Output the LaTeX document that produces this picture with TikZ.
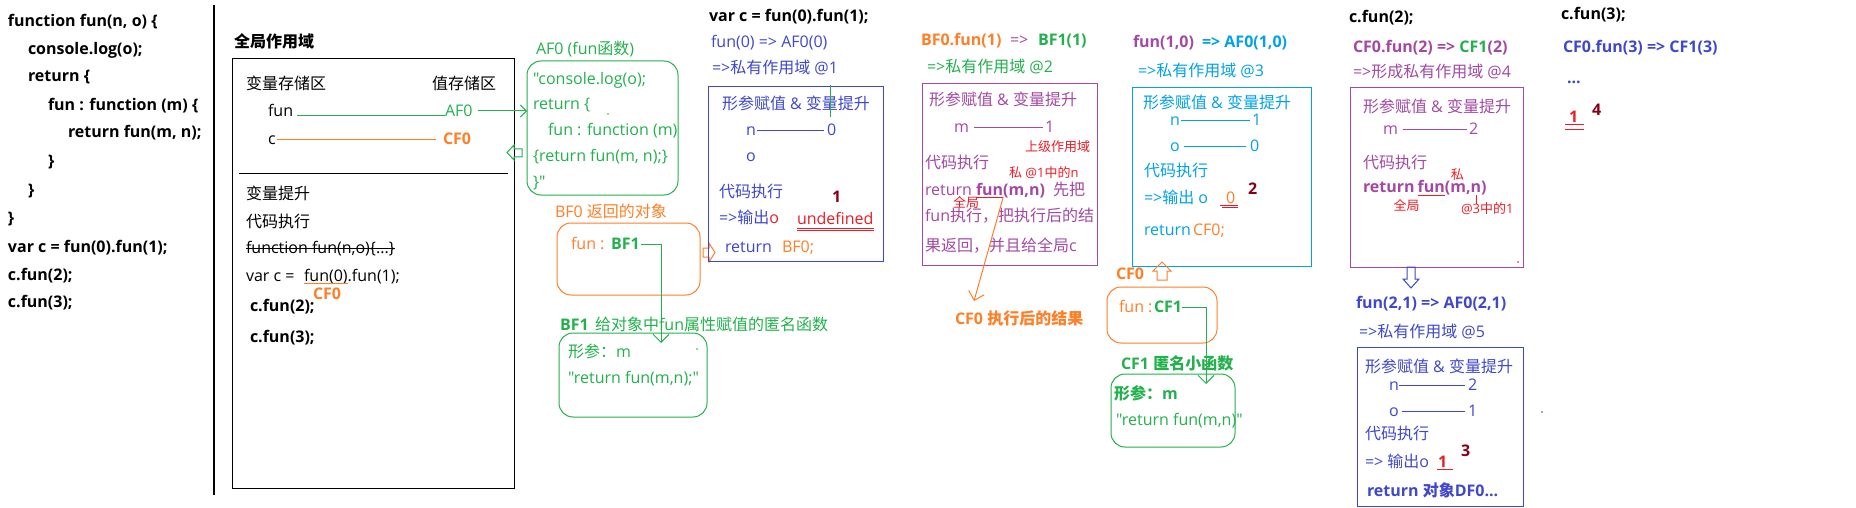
\documentclass[tikz,border=0pt]{standalone}
\usepackage{fontspec}
\newfontfamily\latfont{Open Sans}
\newfontfamily\cjkfont{Noto Sans CJK SC}
\usetikzlibrary{arrows.meta}
\XeTeXinterchartokenstate=1
\newXeTeXintercharclass\CJKclass
\newcount\cjkn
\cjkn="4E00
\loop\ifnum\cjkn<"A000
  \XeTeXcharclass\cjkn=\CJKclass
  \advance\cjkn by 1
\repeat
\XeTeXcharclass"FF0C=\CJKclass
\XeTeXcharclass"FF1A=\CJKclass
\XeTeXinterchartoks 0 \CJKclass={\begingroup\cjkfont}
\XeTeXinterchartoks 4095 \CJKclass={\begingroup\cjkfont}
\XeTeXinterchartoks \CJKclass 0={\endgroup}
\XeTeXinterchartoks \CJKclass 4095={\endgroup}
\newcommand\fsN{\latfont\fontsize{16}{19}\selectfont}
\newcommand\fsS{\latfont\fontsize{13}{15}\selectfont}
\definecolor{cgreen}{RGB}{34,177,76}
\definecolor{corange}{RGB}{255,127,39}
\definecolor{cblue}{RGB}{63,72,204}
\definecolor{cpurple}{RGB}{163,73,164}
\definecolor{ccyan}{RGB}{0,162,232}
\definecolor{cred}{RGB}{237,28,36}
\definecolor{cdred}{RGB}{136,0,21}
\begin{document}
\begin{tikzpicture}[x=1pt,y=-1pt,
  tx/.style={anchor=base west,inner sep=0pt,outer sep=0pt,font=\fsN},
  cb/.style={tx,font=\fsN\bfseries},
  sm/.style={anchor=base west,inner sep=0pt,outer sep=0pt,font=\fsS},
  ln/.style={line width=1pt},
  sbox/.style={draw,line width=1pt,inner sep=0pt,outer sep=0pt},
  rbox/.style={sbox,rounded corners=14pt},
  barb/.style={-{Straight Barb[length=8pt,width=16pt]}},
]
\useasboundingbox[fill=white] (0,0) rectangle (1856,508);

% ---------- code column ----------
\node[cb] (c1) at (8,27) {function fun(n, o) \{};
\node[cb] (c2) at (28,55) {console.log(o);};
\node[cb] (c3) at (28,82) {return \{};
\node[cb] (c4) at (48,111) {fun : function (m) \{};
\node[cb] (c5) at (68,138) {return fun(m, n);};
\node[cb] (c6) at (48,167) {\}};
\node[cb] (c7) at (28,195) {\}};
\node[cb] (c8) at (8,223) {\}};
\node[cb] (c9) at (8,252) {var c = fun(0).fun(1);};
\node[cb] (c10) at (8,280) {c.fun(2);};
\node[cb] (c11) at (8,307) {c.fun(3);};
\draw[line width=1.2pt] (214,5) -- (214,495);

% ---------- global scope ----------
\node[cb] (gtitle) at (234,48) {全局作用域};
\node[sbox,minimum width=282pt,minimum height=429pt] (gbox) at (373,273.5) {};
\node[tx] (gvar) at (246,90) {变量存储区};
\node[tx] (gval) at (432,90) {值存储区};
\node[tx] (gfun) at (268,117) {fun};
\node[tx,text=cgreen] (gaf0) at (445,117) {AF0};
\draw[ln,cgreen] ([xshift=4pt,yshift=1pt]gfun.base east) -- ([yshift=1pt]gaf0.base west);
\node[tx] (gc) at (268,145) {c};
\node[cb,text=corange] (gcf0) at (443,145) {CF0};
\draw[ln,corange] ([xshift=1pt,yshift=5pt]gc.base east) -- ([xshift=-7pt,yshift=5pt]gcf0.base west);
\draw[ln,cgreen] (522,149) -- (514,149) -- (514,145) -- (507,152.5) -- (514,160) -- (514,157) -- (522,157) -- cycle;
\draw[ln] (239,174) -- (508,174);
\node[tx] (ghoist) at (246,200) {变量提升};
\node[tx] (gexec) at (246,227) {代码执行};
\node[tx] (gstrike) at (246,253) {function fun(n,o)\{...\}};
\draw[ln] ([yshift=5pt]gstrike.base west) -- ([yshift=5pt]gstrike.base east);
\node[tx] (gvc) at (246,281) {var c =};
\node[tx] (gfun0) at (304,281) {fun(0)};
\node[tx] (gfun1) at (gfun0.base east) {.fun(1);};
\draw[ln,corange] ([yshift=-2pt]gfun0.base west) -- ([yshift=-2pt]gfun0.base east);
\node[cb,text=corange] (gcf0b) at (313,299) {CF0};
\node[cb] (gc2) at (250,311) {c.fun(2);};
\node[cb] (gc3) at (250,342) {c.fun(3);};

% ---------- AF0 ----------
\node[tx,text=cgreen] (af0lbl) at (536,55) {AF0 (fun函数)};
\node[rbox,draw=cgreen,minimum width=151pt,minimum height=134pt] (af0box) at (602.5,128) {};
\node[tx,text=cgreen] (af0t1) at (533,85) {"console.log(o);};
\node[tx,text=cgreen] (af0t2) at (533,110) {return \{};
\node[tx,text=cgreen] (af0t3) at (548,136) {fun : function (m)};
\node[tx,text=cgreen] (af0t4) at (533,162) {\{return fun(m, n);\}};
\node[tx,text=cgreen] (af0t5) at (533,187) {\}"};
\fill[cgreen] (608,114) circle (0.9);
\path ([xshift=5pt,yshift=6pt]gaf0.base east) coordinate (gaf0s);
\draw[ln,cgreen,-{Straight Barb[length=6pt,width=12pt]}] (gaf0s) -- (gaf0s -| af0box.west);

% ---------- BF0 ----------
\node[tx,text=corange] (bf0lbl) at (555,217) {BF0 返回的对象};
\node[rbox,draw=corange,minimum width=143pt,minimum height=72pt] (bf0box) at (628.5,259) {};
\node[tx,text=corange] (bf0fun) at (571,249) {fun :};
\node[cb,text=cgreen] (bf0bf1) at (611,249) {BF1};
\coordinate (bf1in) at (661,343);
\draw[ln,cgreen,barb] ([xshift=1pt,yshift=5pt]bf0bf1.base east) -| (bf1in);
\draw[ln,corange] (703,248) -- (709,248) -- (709,243) -- (715,252.5) -- (709,262) -- (709,257) -- (703,257) -- cycle;

% ---------- BF1 ----------
\node[cb,text=cgreen] (bf1a) at (560,330) {BF1};
\node[tx,text=cgreen] (bf1b) at (595,330) {给对象中fun属性赋值的匿名函数};
\node[rbox,draw=cgreen,minimum width=148pt,minimum height=84pt] (bf1box) at (633,375) {};
\node[tx,text=cgreen] (bf1p) at (568,357) {形参：m};
\node[tx,text=cgreen] (bf1r) at (568,383) {"return fun(m,n);"};
\fill[cgreen] (697,349) circle (0.9);

% ---------- scope 1 ----------
\node[cb] (h1) at (709,22) {var c = fun(0).fun(1);};
\node[tx,text=cblue] (s1a) at (711,48) {fun(0) => AF0(0)};
\node[tx,text=cblue] (s1b) at (712,74) {=>私有作用域 @1};
\node[sbox,draw=cblue,minimum width=175pt,minimum height=174pt] (s1box) at (795.5,174) {};
\node[tx,text=cblue] (s1c) at (722,110) {形参赋值 \& 变量提升};
\draw[ln,cgreen] (830,85) -- (830,117);
\node[tx,text=cblue] (s1n) at (746,136) {n};
\node[tx,text=cblue] (s1nv) at (827,136) {0};
\draw[ln,cblue] ([xshift=1pt,yshift=5pt]s1n.base east) -- ([xshift=-3pt,yshift=5pt]s1nv.base west);
\node[tx,text=cblue] (s1o) at (746,162) {o};
\node[tx,text=cblue] (s1d) at (719,197) {代码执行};
\node[cb,text=cdred] (s1k) at (832,203) {1};
\node[tx,text=cblue] (s1e) at (719,223) {=>输出\textcolor{cred}{o}};
\node[tx,text=cred] (s1u) at (797,224) {undefined};
\draw[line width=0.8pt,cred] ([yshift=-4pt]s1u.base west) -- ([yshift=-4pt]s1u.base east);
\draw[line width=0.8pt,cred] ([yshift=-6.5pt]s1u.base west) -- ([yshift=-6.5pt]s1u.base east);
\node[tx,text=cblue] (s1r) at (725,252) {return};
\node[tx,text=corange] (s1rv) at (782,252) {BF0;};

% ---------- scope 2 ----------
\node[cb,text=corange] (s2a) at (921,46) {BF0.fun(1)};
\node[tx,text=cpurple] (s2b) at (1010,46) {=>};
\node[cb,text=cgreen] (s2c) at (1038,46) {BF1(1)};
\node[tx,text=cgreen] (s2d) at (927,73) {=>私有作用域 @2};
\node[sbox,draw=cpurple,minimum width=175pt,minimum height=181pt] (s2box) at (1009.5,174.5) {};
\node[tx,text=cpurple] (s2e) at (929,106) {形参赋值 \& 变量提升};
\node[tx,text=cpurple] (s2m) at (954,133) {m};
\node[tx,text=cpurple] (s2mv) at (1045,133) {1};
\draw[ln,cpurple] ([xshift=5pt,yshift=5pt]s2m.base east) -- ([xshift=-2pt,yshift=5pt]s2mv.base west);
\node[sm,text=cred] (s2up) at (1025,152) {上级作用域};
\node[tx,text=cpurple] (s2f) at (925,168) {代码执行};
\node[sm,text=cred] (s2pr) at (1009,178) {私 @1中的n};
\node[tx,text=cpurple] (s2g) at (925,195) {return};
\node[cb,text=cpurple] (s2fun) at (976,195) {fun};
\node[cb,text=cpurple] (s2mn) at (s2fun.base east) {(m,n)};
\node[tx,text=cpurple] (s2h) at (1053,195) {先把};
\draw[ln,cred] ([yshift=-2pt]s2fun.base west) -- ([yshift=-2pt]s2fun.base east);
\node[sm,text=cred] (s2gl) at (953,207.5) {全局};
\node[tx,text=cpurple] (s2i) at (925,222) {fun执行，把执行后的结};
\node[tx,text=cpurple] (s2j) at (925,251) {果返回，并且给全局c};
\coordinate (cf0tip) at (974,301);
\draw[ln,corange,barb] ([yshift=-2pt]s2fun.base east) -- (cf0tip);
\node[cb,text=corange] (cf0res) at (955,324) {CF0 执行后的结果};

% ---------- scope 3 ----------
\node[cb,text=cpurple] (s3a) at (1133,48) {fun(1,0)};
\node[cb,text=ccyan] (s3b) at (1202,48) {=> AF0(1,0)};
\node[tx,text=ccyan] (s3c) at (1138,77) {=>私有作用域 @3};
\node[sbox,draw=ccyan,minimum width=179pt,minimum height=178pt] (s3box) at (1221.5,177) {};
\node[tx,text=ccyan] (s3d) at (1143,109) {形参赋值 \& 变量提升};
\node[tx,text=ccyan] (s3n) at (1170,126) {n};
\node[tx,text=ccyan] (s3nv) at (1252,126) {1};
\draw[ln,ccyan] ([xshift=1pt,yshift=5pt]s3n.base east) -- ([xshift=-2pt,yshift=5pt]s3nv.base west);
\node[tx,text=ccyan] (s3o) at (1170,152) {o};
\node[tx,text=ccyan] (s3ov) at (1250,152) {0};
\draw[ln,ccyan] ([xshift=4pt,yshift=5pt]s3o.base east) -- ([xshift=-4pt,yshift=5pt]s3ov.base west);
\node[tx,text=ccyan] (s3e) at (1144,177) {代码执行};
\node[tx,text=ccyan] (s3f) at (1144,204) {=>输出 o};
\node[tx,text=corange] (s3z) at (1226,204) {0};
\draw[line width=0.8pt,cred] ([xshift=-6pt,yshift=-1.5pt]s3z.base west) -- ([xshift=3pt,yshift=-1.5pt]s3z.base east);
\draw[line width=0.8pt,cred] ([xshift=-4pt,yshift=-3.5pt]s3z.base west) -- ([xshift=3pt,yshift=-3.5pt]s3z.base east);
\node[cb,text=cdred] (s3k) at (1248,194) {2};
\node[tx,text=ccyan] (s3g) at (1144,235) {return};
\node[tx,text=corange] (s3h) at (1193,235) {CF0;};
\draw[ln,corange] (1162,262) -- (1171,271) -- (1167,271) -- (1167,280) -- (1157,280) -- (1157,271) -- (1153,271) -- cycle;

% ---------- CF0 / CF1 ----------
\node[cb,text=corange] (cf0lbl) at (1116,279) {CF0};
\node[rbox,draw=corange,minimum width=110pt,minimum height=56pt] (cf0box) at (1162,315) {};
\node[tx,text=corange] (cf0fun) at (1119,312) {fun :};
\node[cb,text=cgreen] (cf0cf1) at (1154,312) {CF1};
\coordinate (cf1in) at (1206,384);
\draw[ln,cgreen,barb] ([yshift=5pt]cf0cf1.base east) -| (cf1in);
\node[cb,text=cgreen] (cf1lbl) at (1121,369) {CF1 匿名小函数};
\node[rbox,draw=cgreen,minimum width=124pt,minimum height=73pt] (cf1box) at (1173,410.5) {};
\node[cb,text=cgreen] (cf1p) at (1114,399) {形参：m};
\node[tx,text=cgreen] (cf1r) at (1116,425) {"return fun(m,n)"};

% ---------- c.fun(2) ----------
\node[cb] (h2) at (1349,23) {c.fun(2);};
\node[cb,text=cpurple] (s4a) at (1353,53) {CF0.fun(2) => \textcolor{cgreen}{CF1}(2)};
\node[tx,text=cpurple] (s4b) at (1353,78) {=>形成私有作用域 @4};
\node[sbox,draw=cpurple,minimum width=173pt,minimum height=179pt] (s4box) at (1436.5,177.5) {};
\node[tx,text=cpurple] (s4c) at (1363,113) {形参赋值 \& 变量提升};
\node[tx,text=cpurple] (s4m) at (1383,135) {m};
\node[tx,text=cpurple] (s4mv) at (1469,135) {2};
\draw[ln,cpurple] ([xshift=5pt,yshift=5pt]s4m.base east) -- ([xshift=-2pt,yshift=5pt]s4mv.base west);
\node[tx,text=cpurple] (s4d) at (1363,168) {代码执行};
\node[cb,text=cpurple] (s4g) at (1363,193) {return};
\node[cb,text=cpurple] (s4fun) at ([xshift=3pt]s4g.base east) {fun};
\node[cb,text=cpurple] (s4mn) at (s4fun.base east) {(m,n)};
\draw[ln,cred] ([yshift=-2pt]s4fun.base west) -- ([yshift=-2pt]s4fun.base east);
\node[sm,text=cred] (s4pr) at ([xshift=6pt,yshift=14pt]s4mn.base west) {私};
\node[sm,text=cred] (s4gl) at ([xshift=-24pt,yshift=-18pt]s4fun.base west) {全局};
\draw[ln,cred] ([xshift=-10.5pt,yshift=-2pt]s4mn.base east) -- ([xshift=-10.5pt,yshift=-11pt]s4mn.base east);
\node[sm,text=cred] (s4at) at (1461,213) {@3中的1};
\fill[cred] (1518,262) circle (0.9);
\draw[ln,cblue] (1407,267) -- (1415,267) -- (1415,279) -- (1419,279) -- (1411,288) -- (1403,279) -- (1407,279) -- cycle;

% ---------- scope 5 ----------
\node[cb,text=cblue] (s5a) at (1356,308) {fun(2,1) => AF0(2,1)};
\node[tx,text=cblue] (s5b) at (1359,337) {=>私有作用域 @5};
\node[sbox,draw=cblue,minimum width=166pt,minimum height=159pt] (s5box) at (1440,426.5) {};
\node[tx,text=cblue] (s5c) at (1365,372) {形参赋值 \& 变量提升};
\node[tx,text=cblue] (s5n) at (1389,390) {n};
\node[tx,text=cblue] (s5nv) at (1468,390) {2};
\draw[ln,cblue] ([xshift=0pt,yshift=5pt]s5n.base east) -- ([xshift=-3pt,yshift=5pt]s5nv.base west);
\node[tx,text=cblue] (s5o) at (1389,416) {o};
\node[tx,text=cblue] (s5ov) at (1468,416) {1};
\draw[ln,cblue] ([xshift=3pt,yshift=5pt]s5o.base east) -- ([xshift=-3pt,yshift=5pt]s5ov.base west);
\node[tx,text=cblue] (s5d) at (1365,439) {代码执行};
\node[tx,text=cblue] (s5e) at (1365,467) {=> 输出o};
\node[cb,text=cred] (s5one) at (1438,467) {1};
\draw[ln,cred] ([xshift=-1pt,yshift=-2pt]s5one.base west) -- ([xshift=6pt,yshift=-2pt]s5one.base east);
\node[cb,text=cdred] (s5k) at (1461,456) {3};
\node[cb,text=cblue] (s5r) at (1367,496) {return 对象DF0...};
\fill[cblue] (1542,412) circle (0.9);

% ---------- c.fun(3) ----------
\node[cb] (h3) at (1561,20) {c.fun(3);};
\node[cb,text=cblue] (s6a) at (1563,53) {CF0.fun(3) => CF1(3)};
\node[cb,text=cblue] (s6b) at (1567,84) {...};
\node[cb,text=cred] (s6one) at (1569,123) {1};
\draw[line width=0.8pt,cred] ([xshift=-4pt,yshift=-1.5pt]s6one.base west) -- ([xshift=6pt,yshift=-1.5pt]s6one.base east);
\draw[line width=0.8pt,cred] ([xshift=-4pt,yshift=-6pt]s6one.base west) -- ([xshift=6pt,yshift=-6pt]s6one.base east);
\node[cb,text=cdred] (s6k) at (1592,116) {4};
\end{tikzpicture}
\end{document}
